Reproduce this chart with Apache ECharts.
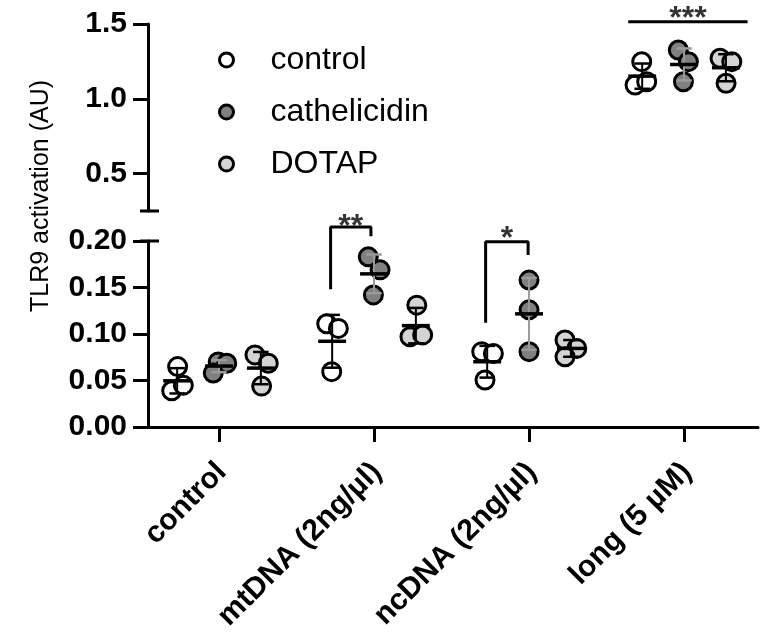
<!DOCTYPE html>
<html>
<head>
<meta charset="utf-8">
<script src="https://cdn.jsdelivr.net/npm/echarts@6/dist/echarts.min.js"></script>
<style>
    html, body { margin: 0; padding: 0; background: #fff; }
    #chart { width: 769px; height: 635px; }
</style>
</head>
<body>
<div id="chart"></div>
<script>
// categories on the x axis
const categories = ['control', 'mtDNA (2ng/µl)', 'ncDNA (2ng/µl)', 'long (5 µM)'];
const groupNames = ['control', 'cathelicidin', 'DOTAP'];

// replicate values per category (3 each)
const controlValues = [[0.065, 0.039, 0.045], [0.111, 0.106, 0.0595], [0.081, 0.079, 0.0505], [1.248, 1.092, 1.114]];
const cathelicidinValues = [[0.070, 0.0685, 0.058], [0.183, 0.169, 0.142], [0.158, 0.126, 0.081], [1.326, 1.248, 1.114]];
const dotapValues = [[0.0775, 0.0685, 0.044], [0.131, 0.097, 0.099], [0.0935, 0.0845, 0.0755], [1.271, 1.248, 1.104]];

// horizontal scatter of the replicates inside each group
const controlJitter = [[0.003, -0.035, 0.04], [-0.035, 0.04, -0.003], [-0.035, 0.04, -0.014], [-0.003, -0.046, 0.029]];
const cathelicidinJitter = [[-0.005, 0.05, -0.037], [-0.037, 0.039, -0.004], [0, 0, 0], [-0.037, 0.028, -0.004]];
const dotapJitter = [[-0.038, 0.048, 0.005], [0.006, -0.038, 0.044], [-0.038, 0.038, -0.038], [-0.038, 0.038, 0.001]];

const groupOffsets = [-0.27, 0, 0.27];
const groupColors = ['#ffffff', '#808080', '#d4d4d4'];
const errorColors = ['#000000', '#9a9a9a', '#000000'];

// significance annotations
const sigMtDNA = [[0.72, 0.148], [0.72, 0.215], [0.98, 0.215], [0.98, 0.205]];
const sigNcDNA = [[1.72, 0.112], [1.72, 0.1993], [1.994, 0.1993], [1.994, 0.185]];
const sigLong = [[2.64, 1.515], [3.41, 1.515]];

const allValues = [controlValues, cathelicidinValues, dotapValues];
const allJitter = [controlJitter, cathelicidinJitter, dotapJitter];

const FONT = 'Liberation Sans, Arial, Helvetica, sans-serif';
const X_MIN = -0.458, X_MAX = 3.477;
const LONG = 3;

function meanSd(arr) {
    const m = arr.reduce((a, b) => a + b, 0) / arr.length;
    const v = arr.reduce((a, b) => a + (b - m) * (b - m), 0) / (arr.length - 1);
    return [m, Math.sqrt(v)];
}

function pointsFor(g, cats) {
    const out = [];
    cats.forEach(i => {
        allValues[g][i].forEach((y, k) => {
            out.push([i + groupOffsets[g] + allJitter[g][i][k], y]);
        });
    });
    return out;
}

function statsFor(g, cats) {
    return cats.map(i => {
        const [m, sd] = meanSd(allValues[g][i]);
        return [i + groupOffsets[g], m, sd];
    });
}

function errorRenderer(color) {
    return function (params, api) {
        const x = api.value(0), mean = api.value(1), sd = api.value(2);
        const c = api.coord([x, mean]);
        const hi = api.coord([x, mean + sd]);
        const lo = api.coord([x, mean - sd]);
        const unit = api.size([1, 0])[0];
        const barHalf = unit * 0.09;
        const capHalf = unit * 0.05;
        return {
            type: 'group',
            children: [
                { type: 'line', shape: { x1: c[0], y1: hi[1], x2: c[0], y2: lo[1] }, style: { stroke: color, lineWidth: 2 } },
                { type: 'line', shape: { x1: c[0] - capHalf, y1: hi[1], x2: c[0] + capHalf, y2: hi[1] }, style: { stroke: color, lineWidth: 2.5 } },
                { type: 'line', shape: { x1: c[0] - capHalf, y1: lo[1], x2: c[0] + capHalf, y2: lo[1] }, style: { stroke: color, lineWidth: 2.5 } },
                { type: 'line', shape: { x1: c[0] - barHalf, y1: c[1], x2: c[0] + barHalf, y2: c[1] }, style: { stroke: '#000', lineWidth: 3.5 } }
            ]
        };
    };
}

const series = [];
const lowCats = [0, 1, 2];
groupNames.forEach((name, g) => {
    const itemStyle = { color: groupColors[g], borderColor: '#000', borderWidth: 3, opacity: 1 };
    series.push({ name, type: 'scatter', xAxisIndex: 1, yAxisIndex: 1, symbolSize: 18, itemStyle, data: pointsFor(g, lowCats), z: 2 });
    series.push({ name, type: 'scatter', xAxisIndex: 0, yAxisIndex: 0, symbolSize: 18, itemStyle, data: pointsFor(g, [LONG]), z: 2 });
    series.push({ type: 'custom', xAxisIndex: 1, yAxisIndex: 1, renderItem: errorRenderer(errorColors[g]), data: statsFor(g, lowCats), z: 3, silent: true });
    series.push({ type: 'custom', xAxisIndex: 0, yAxisIndex: 0, renderItem: errorRenderer(errorColors[g]), data: statsFor(g, [LONG]), z: 3, silent: true });
});

const bracketStyle = { color: '#000', width: 3 };
series.push({ type: 'line', xAxisIndex: 1, yAxisIndex: 1, data: sigMtDNA, symbol: 'none', clip: false, lineStyle: bracketStyle, silent: true });
series.push({ type: 'line', xAxisIndex: 1, yAxisIndex: 1, data: sigNcDNA, symbol: 'none', clip: false, lineStyle: bracketStyle, silent: true });
series.push({ type: 'line', xAxisIndex: 0, yAxisIndex: 0, data: sigLong, symbol: 'none', clip: false, lineStyle: bracketStyle, silent: true });

const starLabel = (offset) => ({
    show: true, position: 'inside', offset, color: '#000', fontSize: 32, fontWeight: 'bold', fontFamily: FONT,
    formatter: p => p.value[2]
});
series.push({
    type: 'scatter', xAxisIndex: 1, yAxisIndex: 1, symbolSize: 1, clip: false, silent: true,
    itemStyle: { color: 'rgba(0,0,0,0)' },
    data: [
        { value: [(sigMtDNA[1][0] + sigMtDNA[2][0]) / 2, sigMtDNA[1][1], '**'], label: starLabel([0, 0]) },
        { value: [(sigNcDNA[1][0] + sigNcDNA[2][0]) / 2, sigNcDNA[1][1], '*'], label: starLabel([0, -2]) }
    ]
});
series.push({
    type: 'scatter', xAxisIndex: 0, yAxisIndex: 0, symbolSize: 1, clip: false, silent: true,
    itemStyle: { color: 'rgba(0,0,0,0)' },
    data: [{ value: [(sigLong[0][0] + sigLong[1][0]) / 2, sigLong[0][1], '***'], label: starLabel([0, -3]) }]
});

const axisLine = { show: true, onZero: false, lineStyle: { color: '#000', width: 3 } };
const axisTick = { show: true, length: 15, lineStyle: { color: '#000', width: 3 } };
const yLabel = { color: '#000', fontSize: 30, fontWeight: 'bold', fontFamily: FONT, margin: 21 };

const option = {
    animation: false,
    backgroundColor: '#fff',
    grid: [
        { left: 148, right: 11, top: 24, height: 187 },
        { left: 148, right: 11, top: 241, height: 186 }
    ],
    xAxis: [
        { gridIndex: 0, type: 'value', min: X_MIN, max: X_MAX, show: false },
        {
            gridIndex: 1, type: 'value', min: X_MIN, max: X_MAX,
            axisLine,
            axisTick: Object.assign({ customValues: [0, 1, 2, 3] }, axisTick),
            splitLine: { show: false },
            axisLabel: {
                customValues: [-0.05, 0.95, 1.95, 2.95],
                formatter: v => categories[Math.round(v)],
                rotate: 45, align: 'right', verticalAlign: 'top', margin: 30,
                color: '#000', fontSize: 30, fontWeight: 'bold', fontFamily: FONT
            }
        }
    ],
    yAxis: [
        {
            gridIndex: 0, type: 'value', min: 0.25, max: 1.5,
            axisLine,
            axisTick: Object.assign({ customValues: [0.5, 1.0, 1.5] }, axisTick),
            splitLine: { show: false },
            axisLabel: Object.assign({ customValues: [0.5, 1.0, 1.5], formatter: v => v.toFixed(1) }, yLabel)
        },
        {
            gridIndex: 1, type: 'value', min: 0, max: 0.2, interval: 0.05,
            axisLine,
            axisTick,
            splitLine: { show: false },
            axisLabel: Object.assign({ formatter: v => v.toFixed(2) }, yLabel)
        }
    ],
    legend: {
        data: groupNames,
        orient: 'vertical',
        left: 213, top: 39,
        icon: 'circle',
        itemWidth: 14, itemHeight: 14,
        itemGap: 20,
        itemStyle: { borderWidth: 3 },
        textStyle: { color: '#000', fontSize: 32, fontFamily: FONT, lineHeight: 32, padding: [0, 0, 0, 32] }
    },
    graphic: [
        { type: 'line', shape: { x1: 140, y1: 211, x2: 159, y2: 211 }, style: { stroke: '#000', lineWidth: 3 } },
        { type: 'line', shape: { x1: 140, y1: 241, x2: 159, y2: 241 }, style: { stroke: '#000', lineWidth: 3 } },
        {
            type: 'text', x: 41, y: 196, rotation: Math.PI / 2,
            style: { text: 'TLR9 activation (AU)', fill: '#000', fontSize: 25, fontFamily: FONT, align: 'center', verticalAlign: 'middle' }
        }
    ],
    series
};

const chart = echarts.init(document.getElementById('chart'), null, { renderer: 'canvas' });
chart.setOption(option);
</script>
</body>
</html>
